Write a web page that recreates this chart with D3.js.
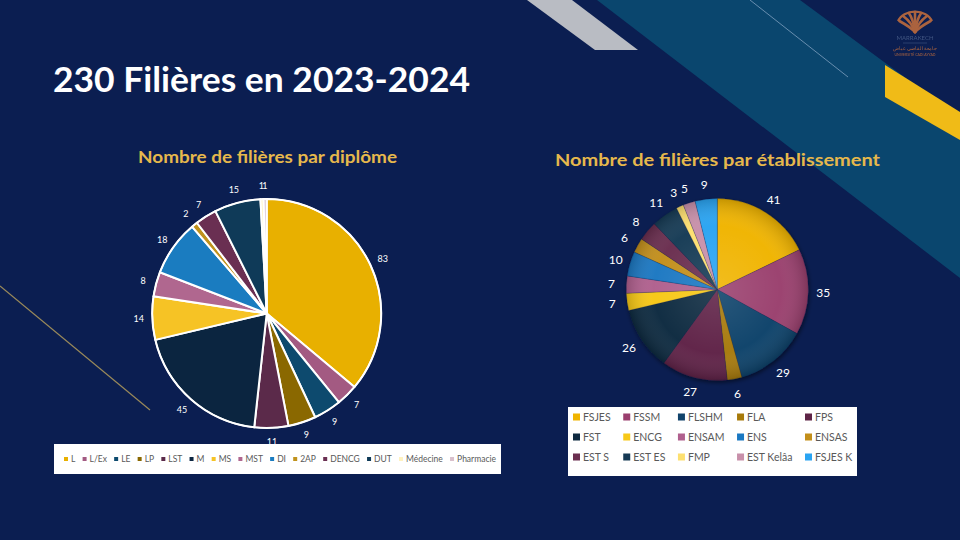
<!DOCTYPE html>
<html>
<head>
<meta charset="utf-8">
<script src="https://cdn.jsdelivr.net/npm/d3@7"></script>
<style>
  html, body { margin: 0; padding: 0; background: #0b1e51; }
  svg { display: block; }
</style>
</head>
<body>
<svg id="chart" width="960" height="540"></svg>
<script>
// ---------- DATA ----------
const mainTitle = "230 Filières en 2023-2024";
const leftTitle = "Nombre de filières par diplôme";
const rightTitle = "Nombre de filières par établissement";

const diplomes = ["L", "L/Ex", "LE", "LP", "LST", "M", "MS", "MST", "DI", "2AP", "DENCG", "DUT", "Médecine", "Pharmacie"];
const diplomeValues = [83, 7, 9, 9, 11, 45, 14, 8, 18, 2, 7, 15, 1, 1];
const diplomeColors = ["#e8b000", "#a35a82", "#0d4a6e", "#8a6800", "#5b2a4a", "#0b2540", "#f6c325",
                       "#b0678f", "#1a7cc0", "#c0921c", "#6a2f52", "#0f3a58", "#fff2c0", "#d9c0cc"];

const etablissements = ["FSJES", "FSSM", "FLSHM", "FLA", "FPS", "FST", "ENCG", "ENSAM", "ENS", "ENSAS",
                        "EST S", "EST ES", "FMP", "EST Kelâa", "FSJES K"];
const etabValues = [41, 35, 29, 6, 27, 26, 7, 7, 10, 6, 8, 11, 3, 5, 9];
const etabColors = ["#f0b400", "#9a3f6e", "#11436b", "#a77a0a", "#5e2446", "#0f2a40", "#f7c818", "#b0608e",
                    "#1a78c2", "#c38f1a", "#6b2f50", "#173a55", "#fde070", "#c890aa", "#2aa4f2"];

// ---------- SETUP ----------
const svg = d3.select("#chart");
const W = 960, H = 540;
const FONT = "Lato, 'Open Sans', sans-serif";

svg.append("rect").attr("width", W).attr("height", H).attr("fill", "#0b1e51");

const defs = svg.append("defs");

// ---------- DECORATION ----------
const deco = svg.append("g");
deco.append("polygon").attr("points", "597,0 800,0 960,118 960,278").attr("fill", "#0a466e");
deco.append("polygon").attr("points", "527,0 572,0 638,50 595,50").attr("fill", "#b9bcc3");
deco.append("line").attr("x1", 750).attr("y1", 0).attr("x2", 848).attr("y2", 77)
  .attr("stroke", "#7fa0bf").attr("stroke-width", 1).attr("opacity", 0.8);
deco.append("polygon").attr("points", "885,65 960,112 960,140 885,97").attr("fill", "#f0bb17");
deco.append("line").attr("x1", 0).attr("y1", 286).attr("x2", 150).attr("y2", 410)
  .attr("stroke", "#9a8a5a").attr("stroke-width", 1.2);

// logo
const logo = deco.append("g").attr("transform", "translate(915,0)").attr("opacity", 0.85);
const fanAngles = [-60, -40, -20, 0, 20, 40, 60];
fanAngles.forEach(a => {
  const rad = a * Math.PI / 180;
  const ex = Math.sin(rad) * 18, ey = 30 - Math.cos(rad) * 18;
  logo.append("path")
    .attr("d", `M0,32 Q${ex * 0.3},${ey + 6} ${ex},${ey}`)
    .attr("fill", "none").attr("stroke", "#c8703c").attr("stroke-width", 2.6).attr("stroke-linecap", "round");
});
logo.append("path").attr("d", "M-17,21 A18,14 0 0 1 17,21")
  .attr("fill", "none").attr("stroke", "#c8703c").attr("stroke-width", 2.2);
logo.append("text").attr("x", 0).attr("y", 40).attr("text-anchor", "middle")
  .attr("font-family", FONT).attr("font-size", 6).attr("fill", "#4a5f8a").text("MARRAKECH");
logo.append("line").attr("x1", -12).attr("x2", 12).attr("y1", 43).attr("y2", 43)
  .attr("stroke", "#4a5f8a").attr("stroke-width", 0.6);
logo.append("text").attr("x", 0).attr("y", 50).attr("text-anchor", "middle")
  .attr("font-family", "'Noto Sans', sans-serif").attr("font-size", 5).attr("fill", "#c8703c").text("جامعة القاضي عياض");
logo.append("text").attr("x", 0).attr("y", 56).attr("text-anchor", "middle")
  .attr("font-family", FONT).attr("font-size", 3.5).attr("fill", "#c8703c").text("UNIVERSITÉ CADI AYYAD");

// ---------- TITLES ----------
svg.append("text").attr("x", 53).attr("y", 92)
  .attr("font-family", FONT).attr("font-weight", "bold").attr("font-size", 34)
  .attr("fill", "#ffffff").attr("textLength", 417).attr("lengthAdjust", "spacingAndGlyphs")
  .text(mainTitle);

svg.append("text").attr("x", 138).attr("y", 163)
  .attr("font-family", FONT).attr("font-weight", "bold").attr("font-size", 17)
  .attr("fill", "#e6b84c").attr("textLength", 259).attr("lengthAdjust", "spacingAndGlyphs")
  .text(leftTitle);

svg.append("text").attr("x", 555).attr("y", 166)
  .attr("font-family", FONT).attr("font-weight", "bold").attr("font-size", 17)
  .attr("fill", "#e6b84c").attr("textLength", 325).attr("lengthAdjust", "spacingAndGlyphs")
  .text(rightTitle);

// ---------- LEFT PIE ----------
const pie = d3.pie().sort(null).value(d => d);
const L = { cx: 266.7, cy: 313.5, r: 114.5, lr: 128 };
const leftArcs = pie(diplomeValues);
const arcL = d3.arc().innerRadius(0).outerRadius(L.r);
const arcLlab = d3.arc().innerRadius(L.lr).outerRadius(L.lr);
const gL = svg.append("g").attr("transform", `translate(${L.cx},${L.cy})`);
gL.selectAll("path").data(leftArcs).join("path")
  .attr("d", arcL).attr("fill", (d, i) => diplomeColors[i])
  .attr("stroke", "#ffffff").attr("stroke-width", 2).attr("stroke-linejoin", "round");
gL.append("circle").attr("r", L.r).attr("fill", "none").attr("stroke", "#ffffff").attr("stroke-width", 1.5);
gL.selectAll("text").data(leftArcs).join("text")
  .attr("transform", d => `translate(${arcLlab.centroid(d)})`)
  .attr("text-anchor", "middle").attr("dy", "0.35em")
  .attr("font-family", FONT).attr("font-size", 9).attr("fill", "#ffffff")
  .text(d => d.data);

// left legend
const legL = svg.append("g");
legL.append("rect").attr("x", 54).attr("y", 444).attr("width", 447).attr("height", 30).attr("fill", "#ffffff");
const legItems = legL.selectAll("g.it").data(diplomes).join("g").attr("class", "it");
legItems.append("rect").attr("width", 4).attr("height", 4).attr("y", 457)
  .attr("fill", (d, i) => diplomeColors[i]);
legItems.append("text").attr("y", 459).attr("dy", "0.35em")
  .attr("font-family", FONT).attr("font-size", 8.5).attr("fill", "#595959").text(d => d);
{
  const widths = [];
  legItems.select("text").each(function () { widths.push(this.getComputedTextLength()); });
  const startX = 64, endX = 496, mgap = 3;
  const content = widths.reduce((a, w) => a + 4 + mgap + w, 0);
  const gap = (endX - startX - content) / (diplomes.length - 1);
  let x = startX;
  legItems.each(function (d, i) {
    const g = d3.select(this);
    g.select("rect").attr("x", x);
    g.select("text").attr("x", x + 4 + mgap);
    x += 4 + mgap + widths[i] + gap;
  });
}

// ---------- RIGHT PIE ----------
const R = { cx: 717.3, cy: 289.5, r: 91, lr: 106 };
const rightArcs = pie(etabValues);
const arcR = d3.arc().innerRadius(0).outerRadius(R.r);
const arcRlab = d3.arc().innerRadius(R.lr).outerRadius(R.lr);

const shadow = defs.append("filter").attr("id", "shadow").attr("x", "-20%").attr("y", "-20%")
  .attr("width", "140%").attr("height", "140%");
shadow.append("feDropShadow").attr("dx", 1).attr("dy", 2).attr("stdDeviation", 2)
  .attr("flood-color", "#000000").attr("flood-opacity", 0.5);

const shade = defs.append("radialGradient").attr("id", "shade")
  .attr("cx", "50%").attr("cy", "50%").attr("r", "50%");
shade.append("stop").attr("offset", "0%").attr("stop-color", "#ffffff").attr("stop-opacity", 0.12);
shade.append("stop").attr("offset", "70%").attr("stop-color", "#ffffff").attr("stop-opacity", 0.02);
shade.append("stop").attr("offset", "100%").attr("stop-color", "#000000").attr("stop-opacity", 0.18);

const gR = svg.append("g").attr("transform", `translate(${R.cx},${R.cy})`);
const gRs = gR.append("g").attr("filter", "url(#shadow)");
gRs.selectAll("path").data(rightArcs).join("path")
  .attr("d", arcR).attr("fill", (d, i) => etabColors[i])
  .attr("stroke", "#0b1e51").attr("stroke-width", 0.4).attr("stroke-opacity", 0.5);
gR.append("circle").attr("r", R.r).attr("fill", "url(#shade)");
gR.selectAll("text").data(rightArcs).join("text")
  .attr("transform", d => `translate(${arcRlab.centroid(d)})`)
  .attr("text-anchor", "middle").attr("dy", "0.35em")
  .attr("font-family", FONT).attr("font-size", 12).attr("fill", "#ffffff")
  .text(d => d.data);

// right legend (columns sized from the widest label in each column)
const legR = svg.append("g");
legR.append("rect").attr("x", 568).attr("y", 407).attr("width", 289).attr("height", 69).attr("fill", "#ffffff");
const nCols = 5;
const rowY = d3.scaleLinear().domain([0, 2]).range([417, 457]);
const legRItems = legR.selectAll("g.it").data(etablissements).join("g").attr("class", "it");
legRItems.append("rect").attr("x", 0).attr("y", -3.5).attr("width", 7).attr("height", 7)
  .attr("fill", (d, i) => etabColors[i]);
legRItems.append("text").attr("x", 10).attr("dy", "0.35em")
  .attr("font-family", FONT).attr("font-size", 10.5).attr("fill", "#595959").text(d => d);
{
  const colW = new Array(nCols).fill(0);
  legRItems.select("text").each(function (d, i) {
    colW[i % nCols] = Math.max(colW[i % nCols], 10 + this.getComputedTextLength());
  });
  const startX = 573, lastX = 805;
  const used = colW.slice(0, nCols - 1).reduce((a, b) => a + b, 0);
  const gap = (lastX - startX - used) / (nCols - 1);
  const colX = [];
  let x = startX;
  for (let c = 0; c < nCols; c++) { colX.push(x); x += colW[c] + gap; }
  legRItems.attr("transform", (d, i) => `translate(${colX[i % nCols]},${rowY(Math.floor(i / nCols))})`);
}
</script>
</body>
</html>
